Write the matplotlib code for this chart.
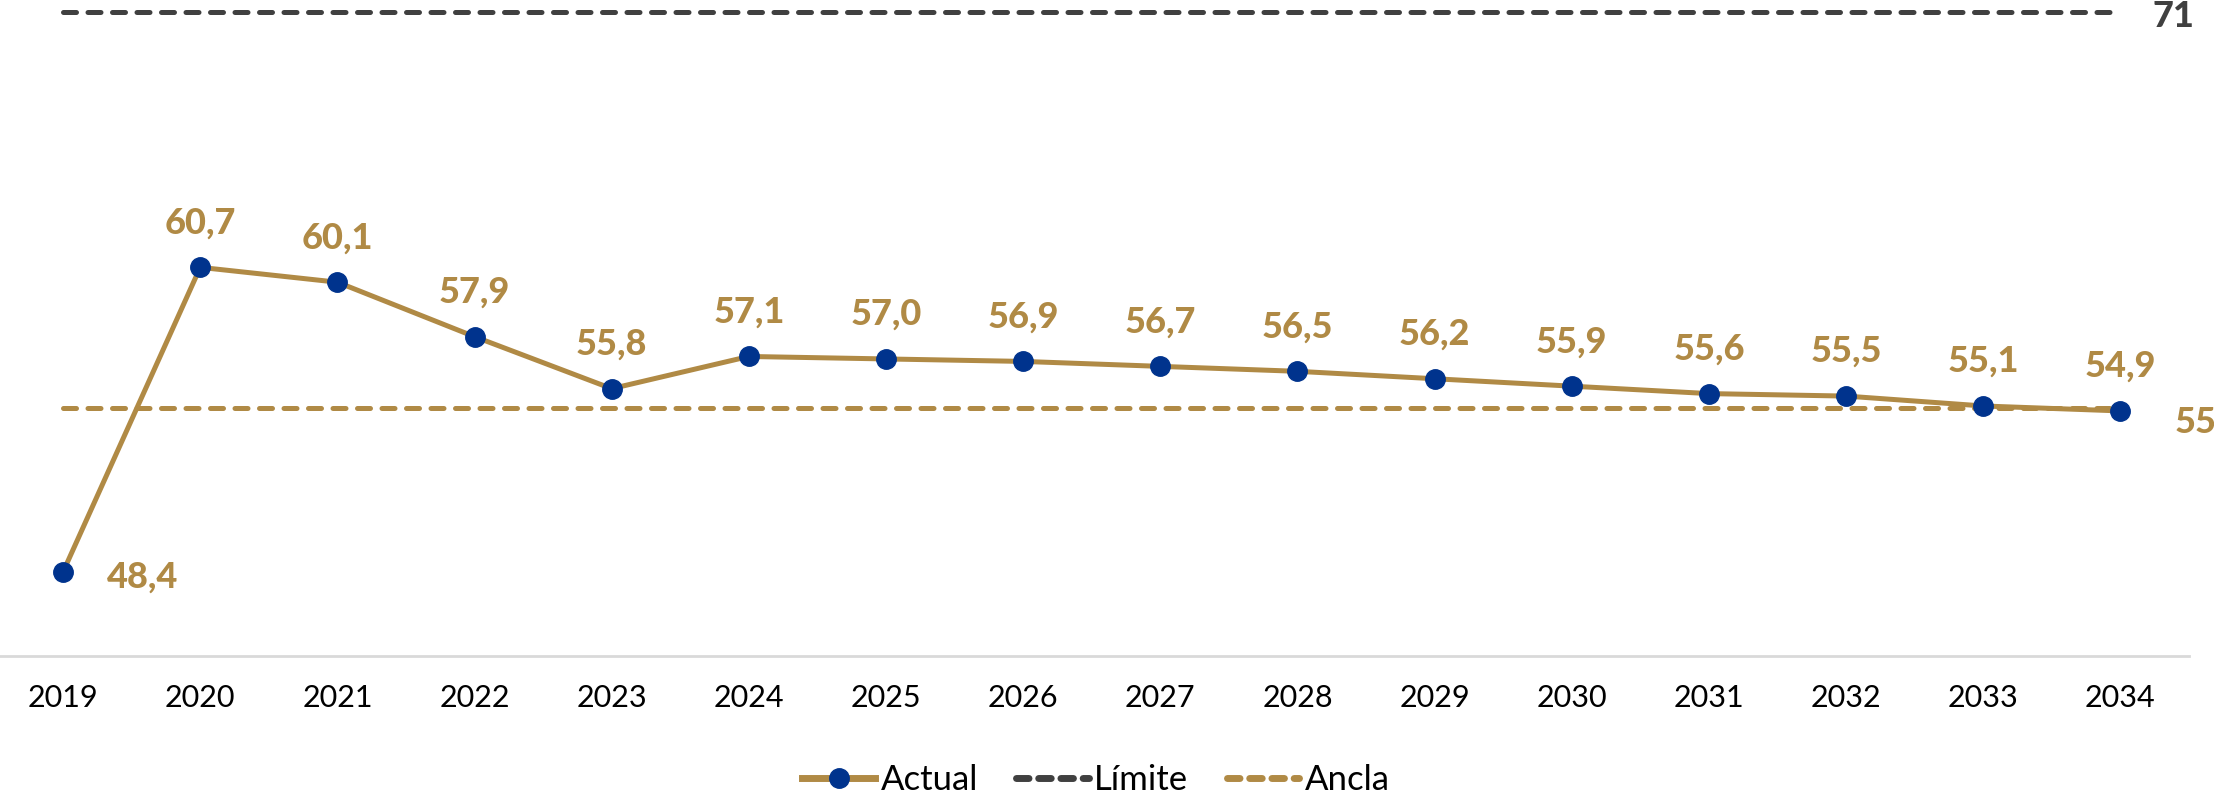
import matplotlib
matplotlib.use("Agg")
import matplotlib.pyplot as plt
from matplotlib.lines import Line2D
from matplotlib import font_manager as fm

years = ["2019", "2020", "2021", "2022", "2023", "2024", "2025", "2026",
         "2027", "2028", "2029", "2030", "2031", "2032", "2033", "2034"]
actual = [48.4, 60.7, 60.1, 57.9, 55.8, 57.1, 57.0, 56.9, 56.7, 56.5,
          56.2, 55.9, 55.6, 55.5, 55.1, 54.9]
limite = 71
ancla = 55

GOLD = "#B08A45"
NAVY = "#00338D"
DARK = "#404040"

def pick_bold(cands):
    for name in cands:
        for f in fm.fontManager.ttflist:
            if f.name == name and (f.weight in ('bold', 700, 'heavy', 800, 'black', 900)
                                   or (isinstance(f.weight, int) and f.weight >= 700)) \
                    and f.style == 'normal':
                return fm.FontProperties(fname=f.fname)
    return fm.FontProperties(family='DejaVu Sans', weight='bold')

plt.rcParams['font.family'] = ['Lato', 'DejaVu Sans']
BOLD = pick_bold(['Lato', 'Open Sans', 'Roboto', 'Noto Sans', 'DejaVu Sans'])
BOLD.set_size(26)

fig = plt.figure(figsize=(22.14, 7.97), dpi=100)
ax = fig.add_axes([0, 1 - 656 / 797, 2189 / 2214, 656 / 797])

x = list(range(len(years)))
ax.plot(x, [limite] * len(x), color=DARK, lw=3.6, dashes=(2.6, 2.3),
        dash_capstyle='round', zorder=2)
ax.plot(x, [ancla] * len(x), color=GOLD, lw=3.6, dashes=(2.6, 2.3),
        dash_capstyle='round', zorder=2)
ax.plot(x, actual, color=GOLD, lw=3.6, marker='o', markersize=14,
        markerfacecolor=NAVY, markeredgecolor=NAVY, zorder=3)

for i, v in enumerate(actual):
    lab = f"{v:.1f}".replace('.', ',')
    if i == 0:
        ax.annotate(lab, (i, v), xytext=(57, -4), textcoords='offset points',
                    ha='center', va='center', fontproperties=BOLD, color=GOLD)
    else:
        ax.annotate(lab, (i, v), xytext=(0, 32), textcoords='offset points',
                    ha='center', va='center', fontproperties=BOLD, color=GOLD)

ax.annotate(str(limite), (x[-1], limite), xytext=(38, -3), textcoords='offset points',
            ha='center', va='center', fontproperties=BOLD,
            color=DARK, annotation_clip=False)
ax.annotate(str(ancla), (x[-1], ancla), xytext=(54, -10), textcoords='offset points',
            ha='center', va='center', fontproperties=BOLD,
            color=GOLD, annotation_clip=False)

ax.set_xlim(-0.46, 15.5)
ax.set_ylim(45, 71.5)
ax.set_xticks(x)
ax.set_xticklabels(years, fontsize=22, color='black')
ax.tick_params(axis='x', length=0, pad=20)
ax.set_yticks([])
for s in ['top', 'right', 'left']:
    ax.spines[s].set_visible(False)
ax.spines['bottom'].set_color('#D9D9D9')
ax.spines['bottom'].set_linewidth(2)

handles = [
    Line2D([], [], color=GOLD, lw=5, marker='o', markersize=14,
           markerfacecolor=NAVY, markeredgecolor=NAVY),
    Line2D([], [], color=DARK, lw=5, dashes=(1.8, 1.4), dash_capstyle='round'),
    Line2D([], [], color=GOLD, lw=5, dashes=(1.8, 1.4), dash_capstyle='round'),
]
fig.legend(handles, ["Actual", "Límite", "Ancla"], loc='center',
           bbox_to_anchor=(1096 / 2214, 1 - 780 / 797), ncol=3, frameon=False,
           fontsize=25, handlelength=2.1, handletextpad=0.15, columnspacing=1.1,
           borderaxespad=0, borderpad=0)

fig.savefig("out.png", dpi=100)
